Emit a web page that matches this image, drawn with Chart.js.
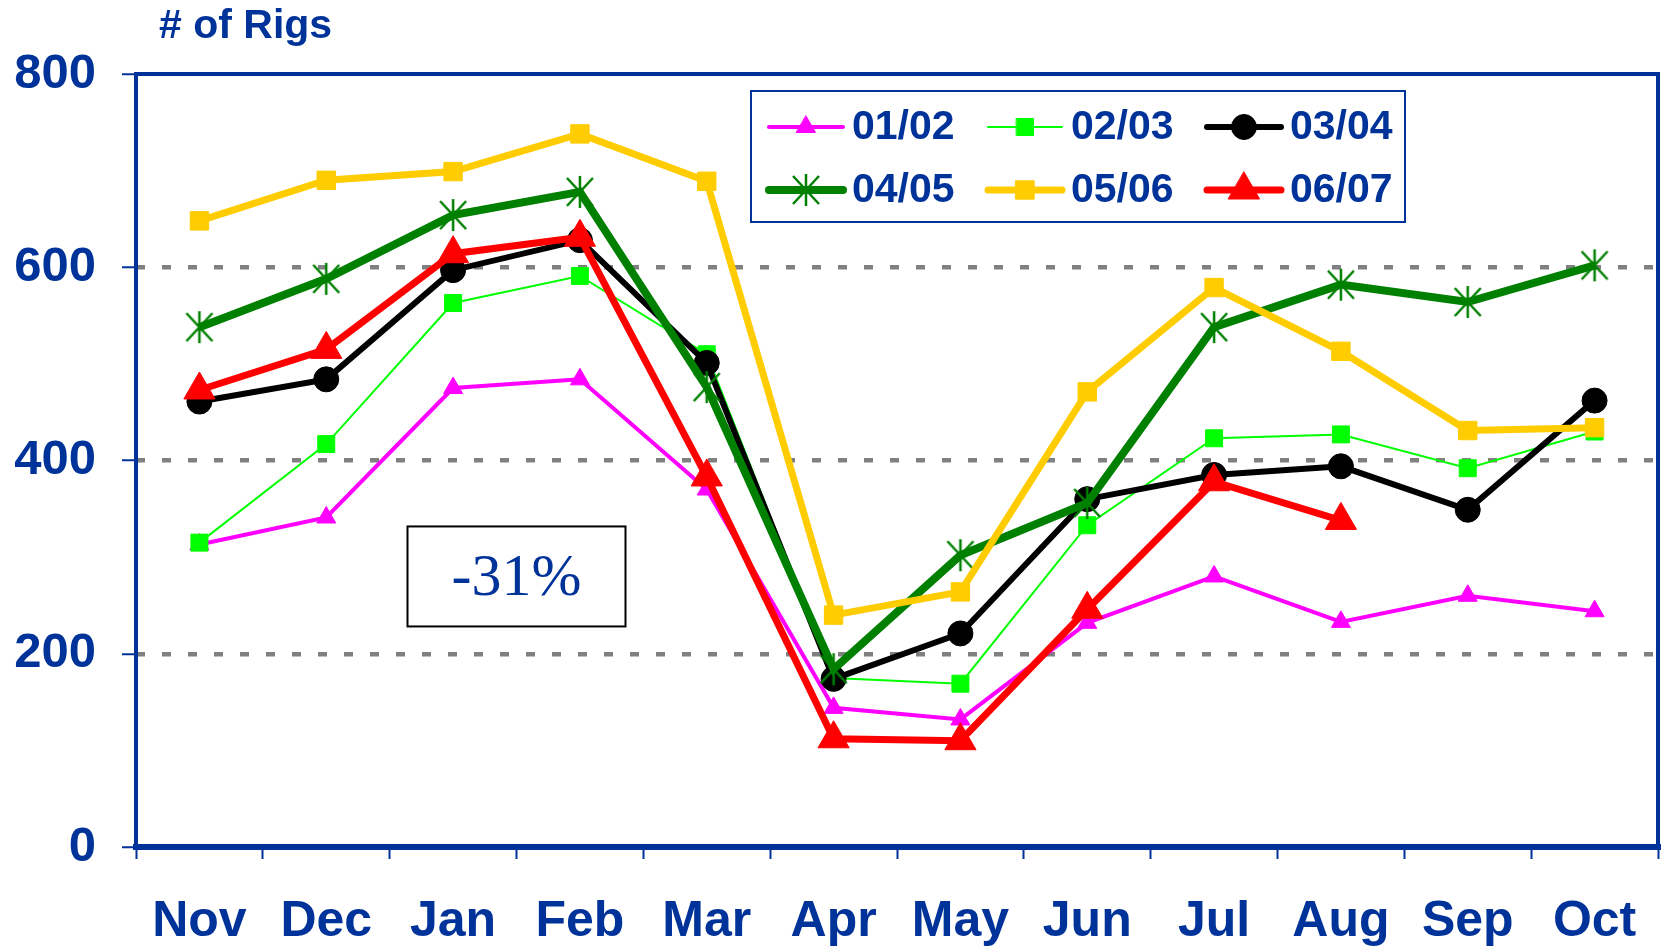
<!DOCTYPE html>
<html lang="en">
<head>
<meta charset="UTF-8">
<title># of Rigs</title>
<script src="https://cdn.jsdelivr.net/npm/chart.js@4"></script>
<style>
  html, body { margin: 0; padding: 0; background: #fff; }
  canvas { display: block; }
</style>
</head>
<body>
<canvas id="rigChart" width="1664" height="948"></canvas>
<script>
// month categories (season runs Nov -> Oct)
const months = ['Nov', 'Dec', 'Jan', 'Feb', 'Mar', 'Apr', 'May', 'Jun', 'Jul', 'Aug', 'Sep', 'Oct'];
const yTicks = [0, 200, 400, 600, 800];

// rig counts per season
const rigs0102 = [313, 341, 475, 484, 370, 144, 132, 232, 280, 233, 260, 244];
const rigs0203 = [315, 417, 563, 591, 510, 175, 169, 333, 423, 427, 392, 430];
const rigs0304 = [461, 484, 597, 628, 501, 174, 221, 360, 385, 394, 349, 462];
const rigs0405 = [538, 588, 654, 678, 476, 184, 302, 356, 538, 582, 564, 602];
const rigs0506 = [648, 690, 699, 738, 689, 240, 264, 471, 579, 513, 431, 434];
const rigs0607 = [473, 515, 614, 631, 383, 112, 110, 246, 378, 338, null, null];

const changeNote = '-31%';

const BLUE = '#003399';
const SANS = '"Liberation Sans", Arial, sans-serif';

// excel style star marker: vertical bar plus an X
function makeStar(color) {
    const c = document.createElement('canvas');
    c.width = 30;
    c.height = 34;
    const g = c.getContext('2d');
    g.strokeStyle = color;
    g.lineWidth = 2.5;
    g.beginPath();
    g.moveTo(15, 1); g.lineTo(15, 33);
    g.moveTo(2, 3); g.lineTo(28, 31);
    g.moveTo(28, 3); g.lineTo(2, 31);
    g.stroke();
    return c;
}

function series(label, data, color, width, style, radius, order) {
    return {
        label: label,
        data: data,
        borderColor: color,
        backgroundColor: color,
        borderWidth: width,
        pointStyle: style,
        pointRadius: radius,
        pointHoverRadius: radius,
        pointBackgroundColor: color,
        pointBorderColor: color,
        pointBorderWidth: 1,
        tension: 0,
        spanGaps: false,
        order: order  // later seasons drawn on top
    };
}

const datasets = [
    series('01/02', rigs0102, '#FF00FF', 4, 'triangle', 11, 6),
    series('02/03', rigs0203, '#00FF00', 2, 'rect', 12, 5),
    series('03/04', rigs0304, '#000000', 6, 'circle', 12.5, 4),
    series('04/05', rigs0405, '#008000', 8, makeStar('#008000'), 15, 3),
    series('05/06', rigs0506, '#FFCC00', 7, 'rect', 13, 2),
    series('06/07', rigs0607, '#FF0000', 7, 'triangle', 18, 1)
];

// plot frame, drawn over the grid
const framePlugin = {
    id: 'frame',
    beforeDatasetsDraw(chart) {
        const { ctx, chartArea: a } = chart;
        ctx.save();
        ctx.strokeStyle = BLUE;
        ctx.lineCap = 'square';
        ctx.lineWidth = 4;
        ctx.beginPath();
        ctx.moveTo(a.left, a.bottom);
        ctx.lineTo(a.left, a.top);
        ctx.lineTo(a.right, a.top);
        ctx.lineTo(a.right, a.bottom);
        ctx.stroke();
        ctx.lineWidth = 6;
        ctx.beginPath();
        ctx.moveTo(a.left, a.bottom);
        ctx.lineTo(a.right, a.bottom);
        ctx.stroke();
        ctx.restore();
    }
};

// boxed legend inside the plot, 3 columns x 2 rows
const boxLegend = {
    id: 'boxLegend',
    afterDatasetsDraw(chart) {
        const { ctx, chartArea: a } = chart;
        const x0 = a.left + 615, y0 = a.top + 17, w = 654, h = 131;
        ctx.save();
        ctx.fillStyle = '#fff';
        ctx.fillRect(x0, y0, w, h);
        ctx.strokeStyle = BLUE;
        ctx.lineWidth = 2;
        ctx.strokeRect(x0, y0, w, h);

        chart.data.datasets.forEach((ds, i) => {
            const col = i % 3, row = Math.floor(i / 3);
            const lx = x0 + 18 + col * 219;
            const ly = y0 + 36 + row * 63;
            ctx.strokeStyle = ds.borderColor;
            ctx.lineWidth = ds.borderWidth;
            ctx.lineCap = 'round';
            ctx.beginPath();
            ctx.moveTo(lx, ly);
            ctx.lineTo(lx + 74, ly);
            ctx.stroke();

            ctx.fillStyle = ds.borderColor;
            ctx.lineWidth = 1;
            Chart.helpers.drawPoint(ctx, {
                pointStyle: ds.pointStyle,
                radius: ds.pointRadius,
                rotation: 0,
                borderWidth: 1
            }, lx + 37, ly);

            ctx.fillStyle = BLUE;
            ctx.font = 'bold 41px ' + SANS;
            ctx.textAlign = 'left';
            ctx.textBaseline = 'middle';
            ctx.fillText(ds.label, lx + 83, ly + 1);
        });
        ctx.restore();
    }
};

// axis title and the -31% note
const notes = {
    id: 'notes',
    afterDraw(chart) {
        const { ctx, chartArea: a, scales } = chart;
        ctx.save();
        ctx.fillStyle = BLUE;
        ctx.font = 'bold 41px ' + SANS;
        ctx.textAlign = 'left';
        ctx.textBaseline = 'middle';
        ctx.fillText('# of Rigs', a.left + 23, 27);

        const cx = scales.x.getPixelForValue(2.5);
        const cy = scales.y.getPixelForValue(280);
        ctx.strokeStyle = '#000';
        ctx.lineWidth = 2;
        ctx.strokeRect(cx - 109, cy - 50, 218, 100);
        ctx.fillStyle = BLUE;
        ctx.font = '60px "Liberation Serif", "Times New Roman", serif';
        ctx.textAlign = 'center';
        ctx.fillText(changeNote, cx, cy + 3);
        ctx.restore();
    }
};

new Chart(document.getElementById('rigChart').getContext('2d'), {
    type: 'line',
    data: {
        labels: months,
        datasets: datasets
    },
    options: {
        responsive: false,
        animation: false,
        devicePixelRatio: 1,
        layout: {
            autoPadding: false,
            padding: { left: 0, right: 6, top: 74, bottom: 0 }
        },
        plugins: {
            legend: { display: false },
            tooltip: { enabled: false }
        },
        scales: {
            x: {
                offset: true,
                afterFit(scale) {
                    scale.height = 101;
                    // keep the plot running to the right edge
                    scale.paddingLeft = 0;
                    scale.paddingRight = 0;
                },
                border: { display: false },
                grid: {
                    offset: true,
                    drawOnChartArea: false,
                    drawTicks: true,
                    tickLength: 12,
                    tickColor: BLUE,
                    tickWidth: 2
                },
                ticks: {
                    color: BLUE,
                    padding: 33,
                    maxRotation: 0,
                    font: { family: SANS, size: 50, weight: 'bold' }
                }
            },
            y: {
                min: 0,
                max: 800,
                afterFit(scale) { scale.width = 136; },
                afterBuildTicks(scale) { scale.ticks = yTicks.map(v => ({ value: v })); },
                border: { display: false, dash: [9, 17] },
                grid: {
                    color: c => (c.tick && (c.tick.value === 0 || c.tick.value === 800)) ? 'rgba(0,0,0,0)' : '#808080',
                    lineWidth: 4.5,
                    drawTicks: true,
                    tickLength: 14,
                    tickColor: BLUE,
                    tickWidth: 2
                },
                ticks: {
                    color: BLUE,
                    padding: 26,
                    font: { family: SANS, size: 49, weight: 'bold' }
                }
            }
        }
    },
    plugins: [framePlugin, boxLegend, notes]
});
</script>
</body>
</html>
